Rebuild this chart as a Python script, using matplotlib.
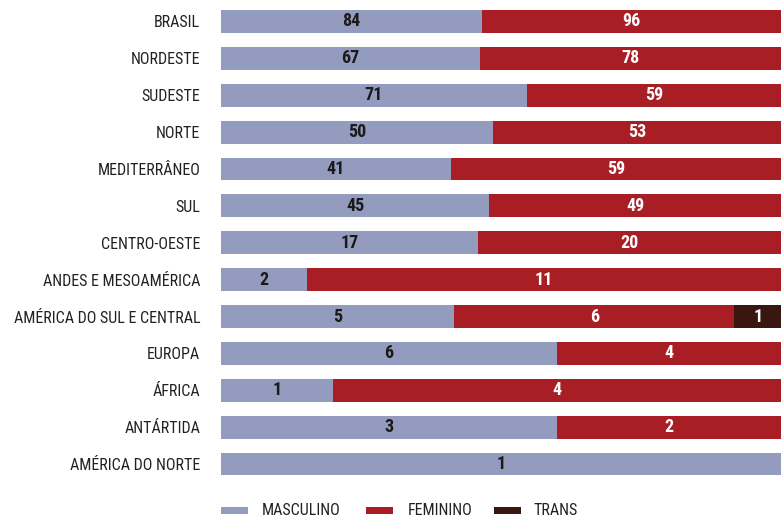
import numpy as np
import matplotlib.pyplot as plt
from matplotlib import font_manager
from matplotlib.patches import Rectangle

regioes = ["BRASIL", "NORDESTE", "SUDESTE", "NORTE", "MEDITERRÂNEO", "SUL",
           "CENTRO-OESTE", "ANDES E MESOAMÉRICA", "AMÉRICA DO SUL E CENTRAL",
           "EUROPA", "ÁFRICA", "ANTÁRTIDA", "AMÉRICA DO NORTE"]
masculino = [84, 67, 71, 50, 41, 45, 17, 2, 5, 6, 1, 3, 1]
feminino = [96, 78, 59, 53, 59, 49, 20, 11, 6, 4, 4, 2, 0]
trans = [0, 0, 0, 0, 0, 0, 0, 0, 1, 0, 0, 0, 0]

series = [("MASCULINO", masculino, "#939cbe", "#1a1a1a"),
          ("FEMININO", feminino, "#a81e24", "white"),
          ("TRANS", trans, "#3a1611", "white")]

# fonte condensada, se houver
names = {f.name for f in font_manager.fontManager.ttflist}
fam = next((n for n in ("Roboto Condensed", "Archivo Narrow", "Barlow Semi Condensed")
            if n in names), "DejaVu Sans")
plt.rcParams["font.family"] = [fam, "DejaVu Sans"]

totais = np.array(masculino) + np.array(feminino) + np.array(trans)
y = np.arange(len(regioes))

fig = plt.figure(figsize=(7.81, 5.17), dpi=100)
ax = fig.add_axes([221 / 781, 1 - 482.5 / 517, 560 / 781, 479.5 / 517])

left = np.zeros(len(regioes))
for nome, vals, cor, cor_txt in series:
    vals = np.array(vals)
    frac = vals / totais
    ax.barh(y, frac, left=left, height=0.62, color=cor, linewidth=0)
    for i, (v, f, l) in enumerate(zip(vals, frac, left)):
        if v > 0:
            ax.text(l + f / 2, i, str(v), ha="center", va="center",
                    color=cor_txt, fontsize=13, fontweight="bold")
    left += frac

ax.set_xlim(0, 1)
ax.set_ylim(len(regioes) - 0.5, -0.5)
ax.set_yticks(y)
ax.set_yticklabels(regioes, fontsize=11.5, color="#222222")
ax.tick_params(axis="y", length=0, pad=15)
ax.set_xticks([])
for s in ax.spines.values():
    s.set_visible(False)

# legenda
legenda = [(221, 262, "MASCULINO", "#939cbe"),
           (366, 408, "FEMININO", "#a81e24"),
           (494, 533, "TRANS", "#3a1611")]
for x0, xt, txt, cor in legenda:
    fig.add_artist(Rectangle((x0 / 781, 1 - 514 / 517), 27 / 781, 7 / 517,
                             transform=fig.transFigure, color=cor, lw=0))
    fig.text(xt / 781, 1 - 510.5 / 517, txt, ha="left", va="center",
             fontsize=11.5, color="#222222")

fig.savefig("out.png", dpi=100)
